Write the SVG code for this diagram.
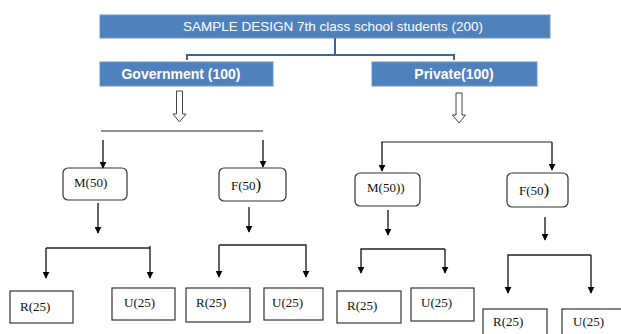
<svg xmlns="http://www.w3.org/2000/svg" width="621" height="334" viewBox="0 0 621 334">
<defs>
<marker id="ah" viewBox="0 0 10 10" refX="9" refY="5" markerWidth="7" markerHeight="7" markerUnits="userSpaceOnUse" orient="auto">
<path d="M0,0 L10,5 L0,10 Z" fill="#000"/>
</marker>
</defs>
<style>
.hdr{fill:#4F81BD;stroke:#6E95C8;stroke-width:1}
.ht{font-family:'Liberation Sans','Open Sans',Arial,sans-serif;fill:#fff;text-anchor:middle}
.rb{fill:#fff;stroke:#333;stroke-width:1.2}
.t{font-family:'Liberation Serif','Times New Roman',serif;font-size:13px;fill:#111}
.ln{fill:none;stroke:#222;stroke-width:1.2}
.ar{fill:none;stroke:#222;stroke-width:1.4;marker-end:url(#ah)}
.hol{fill:#fff;stroke:#444;stroke-width:1}
.blue{fill:none;stroke:#3D6497;stroke-width:2}
</style>
<g id="root"><rect class="hdr" x="100" y="15" width="450" height="23"/><text class="ht" x="333" y="31" font-size="13.5">SAMPLE DESIGN 7th class school students (200)</text></g>
<g id="gov"><rect class="hdr" x="100" y="62" width="173" height="24"/><text class="ht" x="181" y="79" font-size="14" font-weight="bold">Government (100)</text></g>
<g id="pri"><rect class="hdr" x="372" y="62" width="165" height="24"/><text class="ht" x="454" y="79" font-size="14" font-weight="bold">Private(100)</text></g>
<g id="gm"><rect class="rb" x="63" y="168" width="64" height="32" rx="5"/><text class="t" x="74" y="187" font-family="Liberation Serif, serif">M(50)</text></g>
<g id="gf"><rect class="rb" x="219" y="168" width="67" height="33" rx="5"/><text class="t" x="231" y="190" font-family="Liberation Serif, serif">F(50<tspan font-size="17">)</tspan></text></g>
<g id="pm"><rect class="rb" x="355" y="173" width="65" height="33" rx="5"/><text class="t" x="367" y="192" font-family="Liberation Serif, serif">M(50))</text></g>
<g id="pf"><rect class="rb" x="507" y="173" width="61" height="34" rx="5"/><text class="t" x="519" y="195" font-family="Liberation Serif, serif">F(50<tspan font-size="17">)</tspan></text></g>
<g id="gmr"><rect class="rb" x="10" y="291" width="63" height="32"/><text class="t" x="20" y="311" font-family="Liberation Serif, serif">R(25)</text></g>
<g id="gmu"><rect class="rb" x="112" y="288" width="63" height="32"/><text class="t" x="124" y="307" font-family="Liberation Serif, serif">U(25)</text></g>
<g id="gfr"><rect class="rb" x="186" y="288" width="64" height="34"/><text class="t" x="196" y="307" font-family="Liberation Serif, serif">R(25)</text></g>
<g id="gfu"><rect class="rb" x="264" y="288" width="59" height="32"/><text class="t" x="272" y="307" font-family="Liberation Serif, serif">U(25)</text></g>
<g id="pmr"><rect class="rb" x="337" y="291" width="64" height="32"/><text class="t" x="347" y="310" font-family="Liberation Serif, serif">R(25)</text></g>
<g id="pmu"><rect class="rb" x="411" y="288" width="63" height="33"/><text class="t" x="421" y="307" font-family="Liberation Serif, serif">U(25)</text></g>
<g id="pfr"><rect class="rb" x="483" y="309" width="64" height="30"/><text class="t" x="493" y="326" font-family="Liberation Serif, serif">R(25)</text></g>
<g id="pfu"><rect class="rb" x="562" y="309" width="64" height="30"/><text class="t" x="573" y="326" font-family="Liberation Serif, serif">U(25)</text></g>
<g id="connectors">
<path class="blue" d="M335,38 V55 M187,60 V55 H454 V60"/>
<path class="hol" d="M176.5,91 H182.5 V114 H186 L179.5,122 L173,114 H176.5 Z"/>
<path class="hol" d="M456,93 H462 V115 H465.5 L459,123 L452.5,115 H456 Z"/>
<path class="ln" d="M101,131 H263"/>
<path class="ar" d="M103,140 V168"/>
<path class="ar" d="M263,140 V167"/>
<path class="ln" d="M382,143 V142 H552"/>
<path class="ar" d="M382,142 V171"/>
<path class="ar" d="M552,142 V170"/>
<path class="ar" d="M98,203 V233"/>
<path class="ar" d="M249,207 V232"/>
<path class="ar" d="M388,210 V235"/>
<path class="ar" d="M545,217 V240"/>
<path class="ar" d="M150,246 V278"/>
<path class="ar" d="M46,248 H150 M46,248 V278"/>
<path class="ar" d="M219,245 H306 V277"/>
<path class="ar" d="M219,245 V277"/>
<path class="ar" d="M445,249 V273"/>
<path class="ar" d="M445,249 H361 V273"/>
<path class="ar" d="M591,255 V293"/>
<path class="ar" d="M591,255 H508 V293"/>
</g>
</svg>
